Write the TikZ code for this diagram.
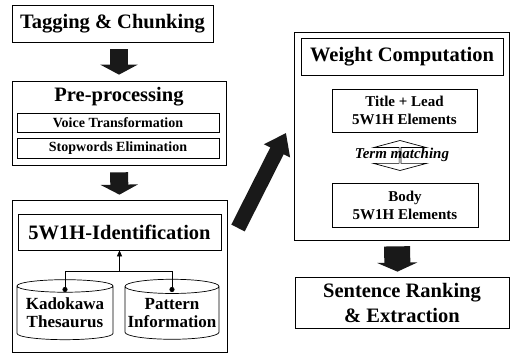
\documentclass[tikz,border=0pt]{standalone}
\usepackage{fontspec}
\setmainfont{Liberation Serif}
\usetikzlibrary{arrows.meta,shapes.geometric,shapes.arrows}

\newcommand\stagefont{\bfseries\fontsize{20.5}{25}\selectfont}
\newcommand\stepfont{\bfseries\fontsize{14}{16}\selectfont}
\newcommand\elemfont{\bfseries\fontsize{15}{18}\selectfont}
\newcommand\dbfont{\bfseries\fontsize{17}{18}\selectfont}

\begin{document}
\begin{tikzpicture}[x=1pt, y=-1pt,
    box/.style={draw, line width=0.7pt, inner sep=0pt, align=center},
    flow/.style={line width=18pt, black!90, -{Triangle[length=10pt, width=37pt]}},
    db/.style={cylinder, shape border rotate=90, draw, line width=0.7pt, aspect=0.16, inner sep=0pt, align=center, font=\dbfont}]
    \useasboundingbox (0,0) rectangle (510,355);

    % left column
    \node[box, minimum width=201pt, minimum height=37pt, font=\stagefont] (tag) at (112.5,23.5) {Tagging \& Chunking};

    \node[box, minimum width=214pt, minimum height=84pt] (pre) at (119,123) {};
    \node[font=\stagefont, inner sep=0pt] (pretitle) at (119,97) {Pre-processing};
    \node[box, minimum width=202pt, minimum height=19pt, font=\stepfont] (voice) at (118,122.5) {Voice Transformation};
    \node[box, minimum width=202pt, minimum height=20pt, font=\stepfont] (stop) at (118,148) {Stopwords Elimination};

    \node[box, minimum width=215pt, minimum height=152pt] (ident) at (119.5,276) {};
    \node[box, minimum width=203pt, minimum height=36pt, font=\stagefont] (idtitle) at (119.5,232) {5W1H-Identification};
    \node[db, minimum width=96pt, minimum height=60pt] (kado) at (65,313) {Kadokawa\\Thesaurus};
    \node[db, minimum width=94pt, minimum height=60pt] (pattern) at (172,313) {Pattern\\Information};
    \coordinate (kdot) at (65,292);
    \coordinate (pdot) at (172,292);
    \coordinate (bus) at (119.5,271);
    \draw[line width=0.7pt, {Circle[length=5pt]}-{Circle[length=5pt]}] (kdot) -- (kdot |- bus) -- (pdot |- bus) -- (pdot);
    \draw[line width=0.7pt, -{Triangle[length=6pt, width=5pt]}] (bus) -- (idtitle.south);

    % right column
    \node[box, minimum width=215pt, minimum height=208pt] (weight) at (401.5,136) {};
    \node[box, minimum width=202pt, minimum height=37pt, font=\stagefont] (wtitle) at (402,56.5) {Weight Computation};
    \node[box, minimum width=145pt, minimum height=43pt, font=\elemfont] (lead) at (404.5,110.5) {Title + Lead\\5W1H Elements};
    \node[double arrow, draw, line width=0.7pt, rotate=90, minimum height=30pt, minimum width=53pt,
          double arrow head extend=10pt, double arrow tip angle=150, inner sep=0pt] (match) at (400,155.5) {};
    \node[font=\elemfont\itshape, inner sep=0pt] (matchtext) at (402,155) {Term matching};
    \node[box, minimum width=146pt, minimum height=44pt, font=\elemfont] (body) at (405,205) {Body\\5W1H Elements};

    \node[box, minimum width=214pt, minimum height=51pt, font=\stagefont] (rank) at (402,302.5) {Sentence Ranking\\\& Extraction};

    % block arrows
    \coordinate (bigtail) at (238,228);
    \coordinate (bigtip) at (286,133);
    \draw[flow, shorten <=7pt, shorten >=6pt] (pre.north |- tag.south) -- (pre.north);
    \draw[flow, shorten <=7pt, shorten >=5pt] (pre.south) -- (ident.north);
    \draw[flow, line width=26pt, -{Triangle[length=9pt, width=40pt]}, shorten <=6pt, shorten >=5pt]
        ([xshift=-4.5pt]weight.south) -- ([xshift=-4.5pt]rank.north);
    \draw[flow, line width=15pt, -{Triangle[length=20pt, width=28pt]}] (bigtail) -- (bigtip);
\end{tikzpicture}
\end{document}
